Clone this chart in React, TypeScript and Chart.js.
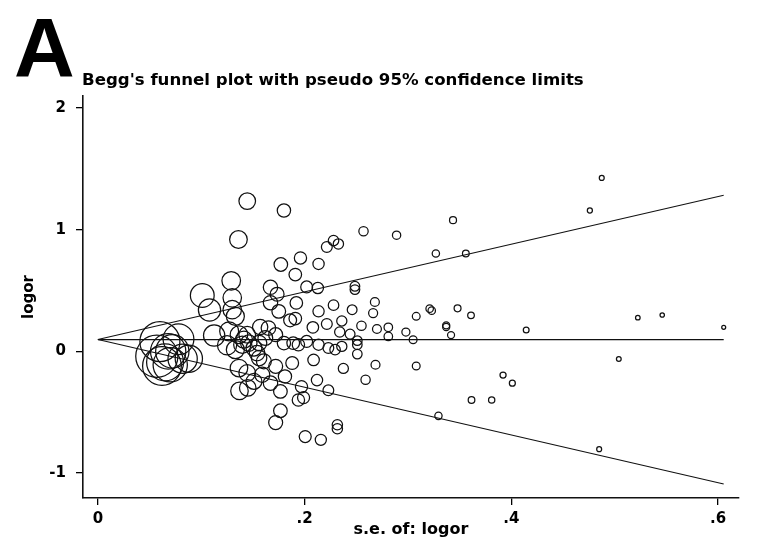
import { useEffect, useRef } from "react";
import { Chart, registerables } from "chart.js";

Chart.register(...registerables);

// Standard error of log odds ratio (x) for each study
const seValues = [
  0.057, 0.060, 0.062, 0.065, 0.068, 0.072, 0.078, 0.082, 0.088, 0.070,
  0.101, 0.108, 0.1125, 0.125, 0.127, 0.129, 0.130, 0.130, 0.133, 0.133,
  0.136, 0.1365, 0.1365, 0.137, 0.1397, 0.145, 0.1413, 0.1445, 0.1445, 0.1445,
  0.146, 0.151, 0.151, 0.154, 0.156, 0.156, 0.157, 0.159, 0.1606, 0.162,
  0.165, 0.167, 0.167, 0.167, 0.172, 0.172, 0.172, 0.1734, 0.175, 0.1766,
  0.1766, 0.177, 0.180, 0.180, 0.181, 0.186, 0.188, 0.189, 0.191, 0.191,
  0.192, 0.194, 0.194, 0.196, 0.199, 0.197, 0.2006, 0.202, 0.202, 0.208,
  0.2087, 0.212, 0.2128, 0.2135, 0.2135, 0.2135, 0.2157, 0.2215, 0.2215, 0.223,
  0.223, 0.228, 0.228, 0.2295, 0.2317, 0.2317, 0.2327, 0.234, 0.236, 0.236,
  0.2375, 0.244, 0.246, 0.2487, 0.2487, 0.251, 0.251, 0.251, 0.255, 0.257,
  0.259, 0.2663, 0.268, 0.2686, 0.270, 0.281, 0.281, 0.289, 0.298, 0.305,
  0.308, 0.308, 0.321, 0.323, 0.327, 0.3295, 0.337, 0.337, 0.3417, 0.3436,
  0.348, 0.356, 0.361, 0.3615, 0.381, 0.392, 0.401, 0.4144, 0.476, 0.485,
  0.4875, 0.504, 0.5224, 0.546, 0.6055,
];

// Log odds ratio (y) for each study
const logorValues = [
  -0.04, 0.08, -0.12, -0.09, 0.0, 0.0, 0.10, -0.06, -0.06, -0.11,
  0.46, 0.34, 0.13, 0.05, 0.165, 0.58, 0.44, 0.343, 0.288, 0.014,
  0.92, 0.137, -0.137, -0.325, 0.055, -0.30, 0.096, 1.235, 0.137, -0.178,
  0.068, 0.027, -0.247, -0.014, 0.068, -0.055, 0.20, -0.192, -0.082, 0.11,
  0.192, 0.527, 0.40, -0.261, 0.137, -0.123, -0.585, 0.47, 0.329, -0.329,
  -0.488, 0.714, 1.158, 0.068, -0.206, 0.255, -0.096, 0.068, 0.631, 0.27,
  0.398, 0.055, -0.40, 0.768, -0.38, -0.29, -0.70, 0.53, 0.082, 0.198,
  -0.07, -0.236, 0.521, 0.719, 0.329, 0.055, -0.727, 0.858, 0.225, 0.027,
  -0.32, 0.38, 0.911, 0.014, -0.603, -0.636, 0.883, 0.159, 0.041, 0.25,
  -0.14, 0.142, 0.343, 0.535, 0.508, 0.088, 0.055, -0.022, 0.211, 0.988,
  -0.233, 0.315, 0.406, -0.11, 0.184, 0.198, 0.123, 0.955, 0.159, 0.096,
  0.288, -0.12, 0.351, 0.335, 0.804, -0.53, 0.214, 0.20, 0.134, 1.078,
  0.354, 0.804, 0.296, -0.40, -0.40, -0.195, -0.261, 0.175, 1.158, -0.804,
  1.426, -0.063, 0.277, 0.299, 0.198,
];

// Pooled estimate and pseudo 95% confidence limits (line end points)
const limitSe = [0, 0.6055];
const pooledLine = [0.097, 0.097];
const upperLimit = [0.097, 1.284];
const lowerLimit = [0.097, -1.09];

const xTickValues = [0, 0.2, 0.4, 0.6];
const xTickLabels = ["0", ".2", ".4", ".6"];
const yTickValues = [-1, 0, 1, 2];
const yTickLabels = ["-1", "0", "1", "2"];

const panelLabel = "A";
const chartTitle = "Begg's funnel plot with pseudo 95% confidence limits";
const xTitle = "s.e. of: logor";
const yTitle = "logor";

const FONT = "'DejaVu Sans', 'Liberation Sans', sans-serif";

function labelFor(values: number[], labels: string[], v: number): string {
  const i = values.findIndex((t) => Math.abs(t - v) < 1e-9);
  return i >= 0 ? labels[i] : "";
}

const textPlugin = {
  id: "panelText",
  afterDraw(chart: any) {
    const c = chart.ctx;
    c.save();
    c.fillStyle = "#000";
    c.textAlign = "left";
    c.textBaseline = "alphabetic";
    c.font = "bold 84px 'Liberation Sans', Arial, sans-serif";
    c.fillText(panelLabel, 14, 77);
    c.font = `bold 16.6px ${FONT}`;
    c.fillText(chartTitle, 82, 85);
    c.restore();
  },
};

export default function App() {
  const canvasRef = useRef<HTMLCanvasElement | null>(null);

  useEffect(() => {
    const canvas = canvasRef.current;
    if (!canvas) return;

    const lineSet = (ys: number[]) => ({
      data: limitSe.map((x, i) => ({ x, y: ys[i] })),
      showLine: true,
      pointRadius: 0,
      borderColor: "#111",
      borderWidth: 1.1,
      fill: false,
    });

    const chart = new Chart(canvas, {
      type: "scatter",
      data: {
        datasets: [
          {
            data: seValues.map((s, i) => ({ x: s, y: logorValues[i] })),
            pointStyle: "circle",
            pointRadius: (ctx: any) => {
              const p = ctx.raw;
              return p && p.x ? 1.2 / p.x : 3;
            },
            borderColor: "#111",
            backgroundColor: "rgba(0,0,0,0)",
            borderWidth: 1.25,
            showLine: false,
          } as any,
          lineSet(pooledLine),
          lineSet(upperLimit),
          lineSet(lowerLimit),
        ],
      },
      options: {
        responsive: false,
        animation: false,
        devicePixelRatio: 1,
        layout: { padding: { left: 0, right: 18, top: 96, bottom: 0 } },
        plugins: {
          legend: { display: false },
          tooltip: { enabled: false },
          title: { display: false },
        },
        scales: {
          x: {
            type: "linear",
            min: -0.0144,
            max: 0.62,
            afterBuildTicks: (s: any) => {
              s.ticks = xTickValues.map((v) => ({ value: v }));
            },
            afterFit: (s: any) => {
              s.height = 62;
              s.paddingLeft = 0;
              s.paddingRight = 0;
            },
            ticks: {
              autoSkip: false,
              maxRotation: 0,
              padding: 5,
              color: "#000",
              font: { family: FONT, weight: "bold", size: 15 },
              callback: (v: any) => labelFor(xTickValues, xTickLabels, Number(v)),
            },
            grid: {
              display: true,
              drawOnChartArea: false,
              drawTicks: true,
              tickLength: 7,
              color: "#000",
              lineWidth: 1.3,
            },
            border: { display: true, color: "#111", width: 1.6 },
            title: {
              display: true,
              text: xTitle,
              color: "#000",
              font: { family: FONT, weight: "bold", size: 16 },
              padding: { top: 0, bottom: 21 },
            },
          },
          y: {
            type: "linear",
            min: -1.205,
            max: 2.099,
            afterBuildTicks: (s: any) => {
              s.ticks = yTickValues.map((v) => ({ value: v }));
            },
            afterFit: (s: any) => {
              s.width = 83;
              s.paddingTop = 0;
              s.paddingBottom = 0;
            },
            ticks: {
              autoSkip: false,
              padding: 10,
              color: "#000",
              font: { family: FONT, weight: "bold", size: 15 },
              callback: (v: any) => labelFor(yTickValues, yTickLabels, Number(v)),
            },
            grid: {
              display: true,
              drawOnChartArea: false,
              drawTicks: true,
              tickLength: 7,
              color: "#000",
              lineWidth: 1.3,
            },
            border: { display: true, color: "#111", width: 1.6 },
            title: {
              display: true,
              text: yTitle,
              color: "#000",
              font: { family: FONT, weight: "bold", size: 15 },
              padding: { top: 20, bottom: 0 },
            },
          },
        },
      } as any,
      plugins: [textPlugin],
    });

    return () => chart.destroy();
  }, []);

  return (
    <div style={{ position: "absolute", left: 0, top: 0, width: 761, height: 560, background: "#fff" }}>
      <canvas ref={canvasRef} width={761} height={560} />
    </div>
  );
}
